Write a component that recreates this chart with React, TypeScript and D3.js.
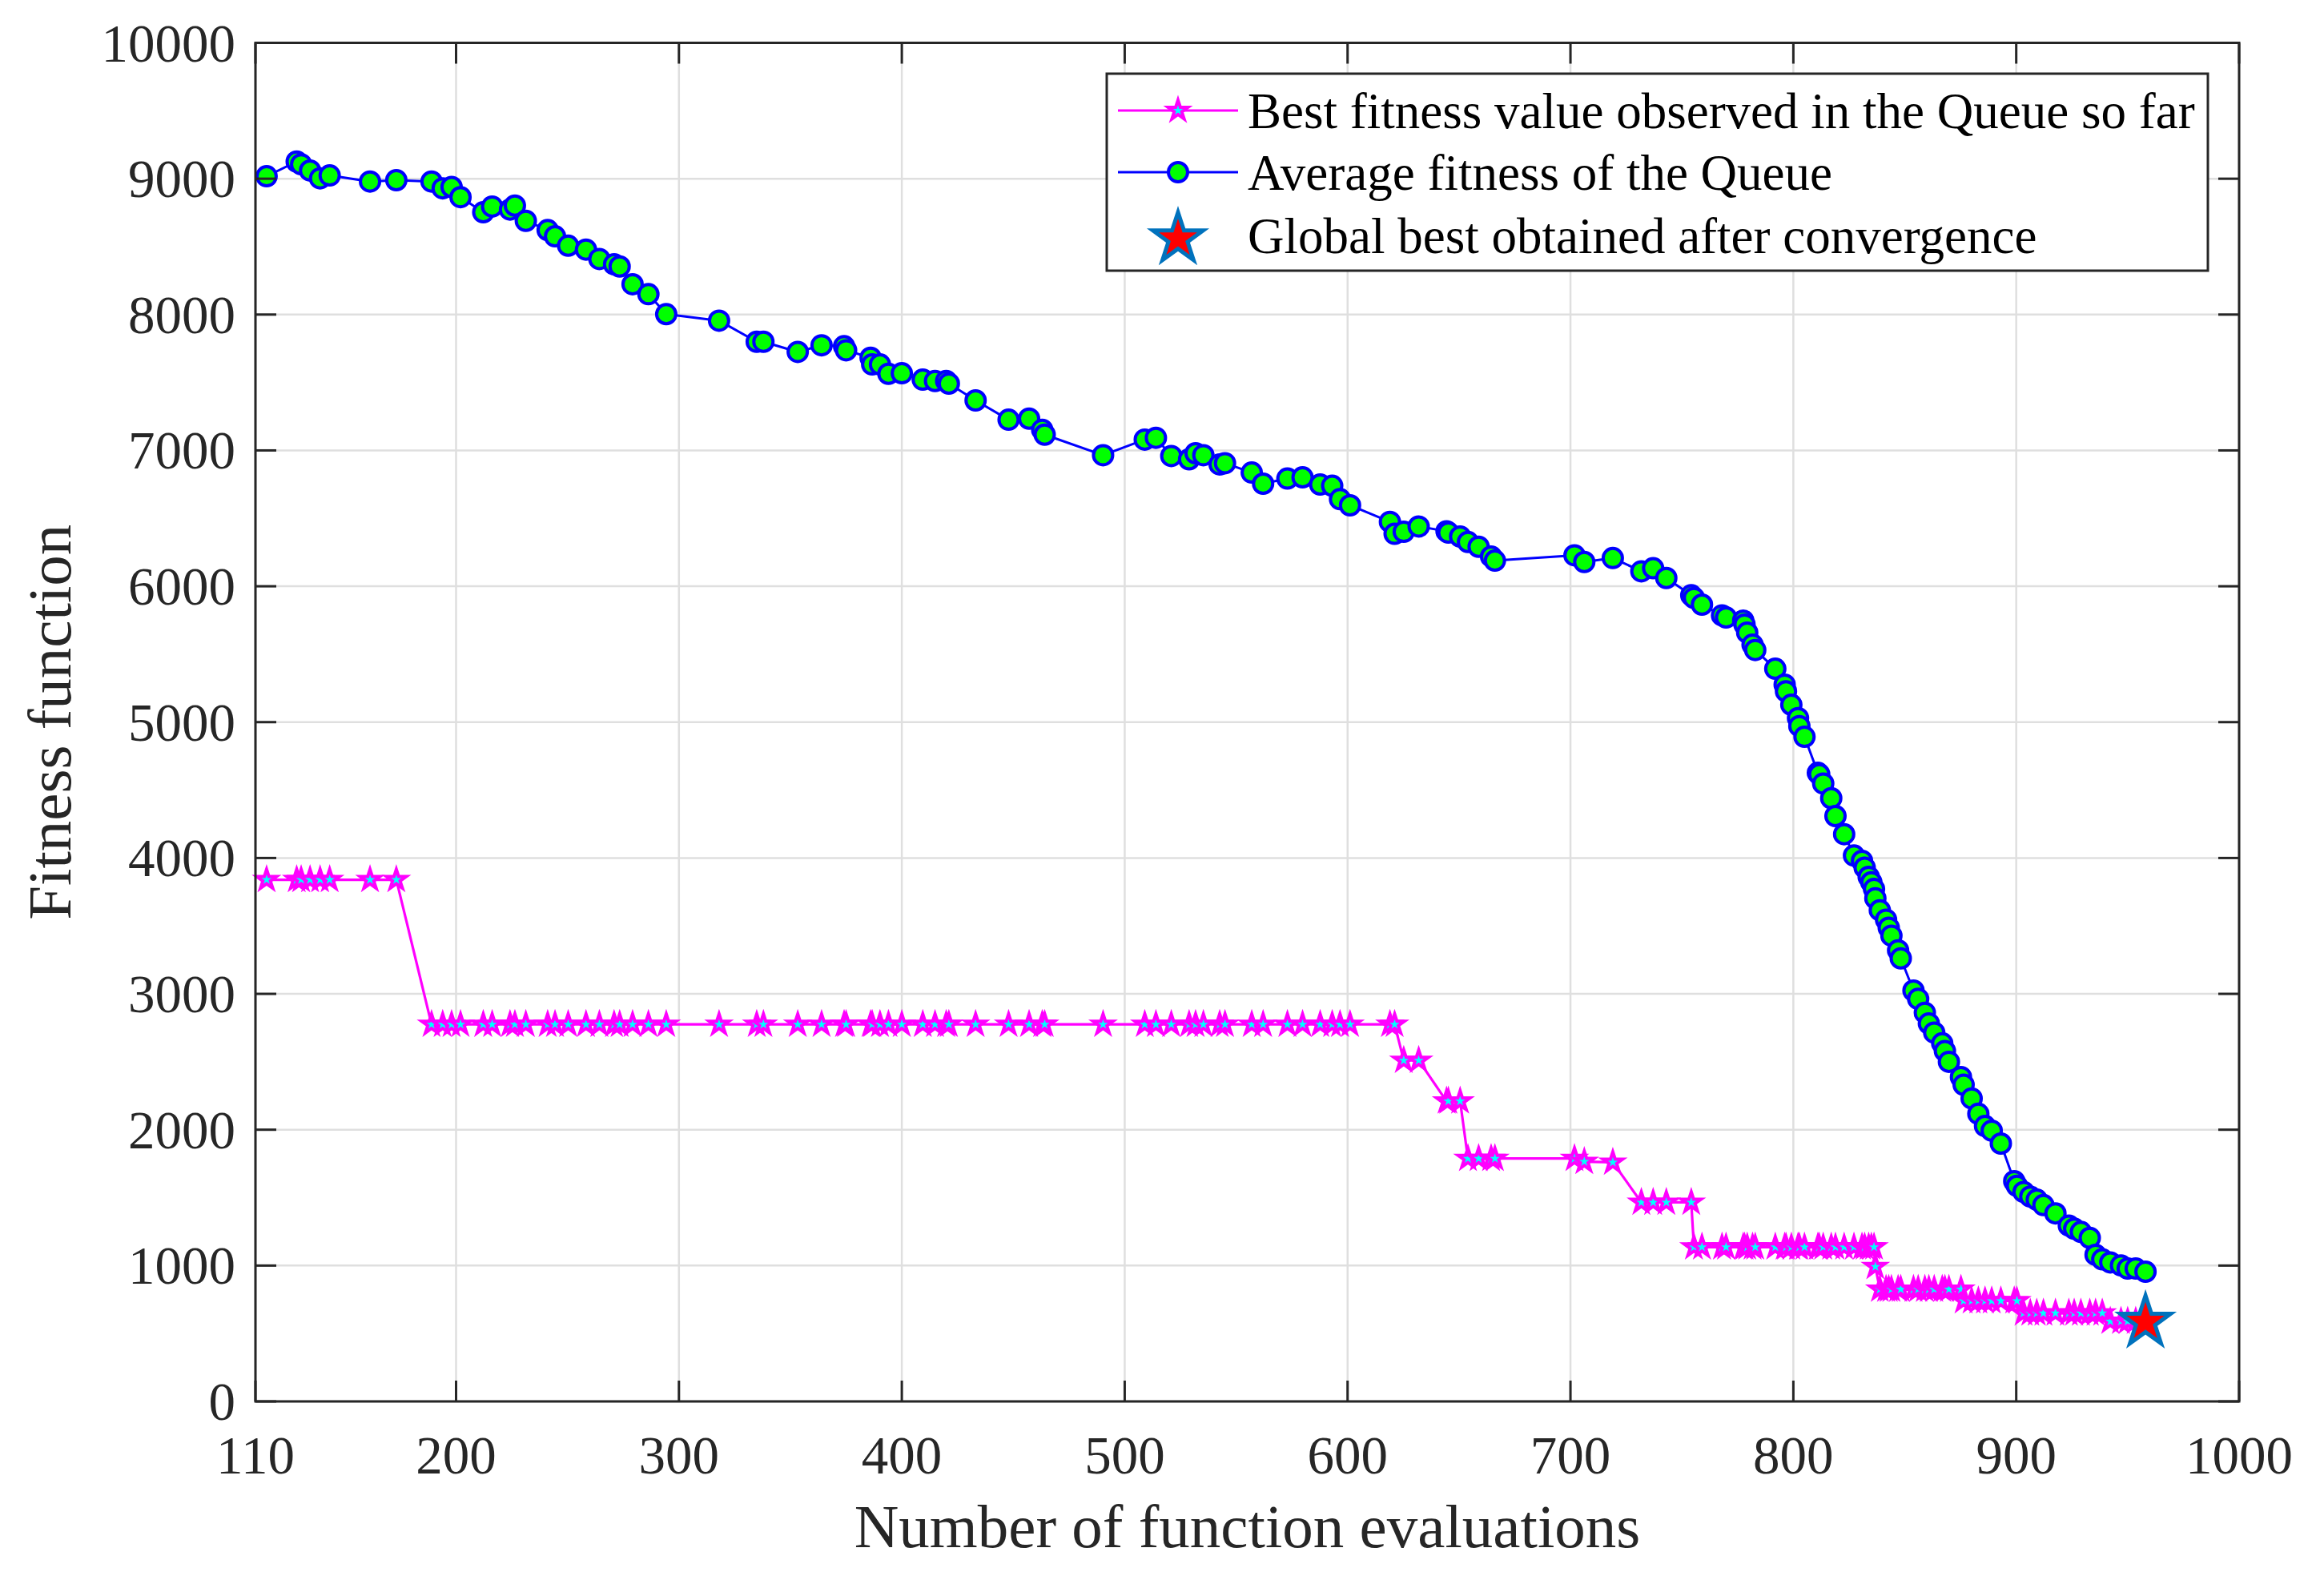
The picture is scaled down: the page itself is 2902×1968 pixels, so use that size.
import React from 'react';
import * as d3 from 'd3';

// ---- Data ----
const evals = [
  115, 128.5, 130.5, 134.5, 139, 143.3, 161.4, 173.2, 189, 194, 198, 202, 212.2, 216.2, 224.2, 226.4, 231.3, 241.1, 244.4, 250.3,
  258.3, 264.3, 270.9, 273.4, 279.2, 286.3, 294.3, 318, 334.9, 337.9, 353.3, 364, 374.1, 375, 386, 386.7, 390.2, 394, 400, 409.4,
  414.9, 419.9, 421.1, 433.1, 447.9, 457.1, 463, 464.1, 490.3, 509, 514, 520.9, 528.9, 531.8, 535.3, 542.6, 545, 557, 562.1, 573,
  579.8, 587.7, 593.1, 596.6, 601.1, 619, 621.1, 625.2, 631.9, 644.4, 645.2, 650.5, 654, 658.8, 664.4, 666.1, 701.8, 706.2, 719, 731.8,
  737.1, 743, 754.2, 755.4, 759, 768, 769.8, 777.5, 778.1, 779.3, 781.7, 782.9, 791.9, 796.1, 796.7, 799.1, 802.1, 802.7, 805, 811,
  811.6, 813.4, 817, 818.9, 822.8, 827.2, 830.8, 832, 833.8, 835, 836.2, 836.8, 838.8, 841.6, 842.8, 844, 847, 848.2, 853.9, 856,
  859, 860.8, 863.2, 866.8, 868, 869.8, 875.2, 876.4, 880, 883, 886, 889, 893.1, 899.1, 900.3, 903.3, 906.3, 909.2, 912.2, 917.6,
  923.6, 926, 929, 933, 935.6, 938.6, 942.2, 947, 950, 953.6, 958,
];

const avgFitness = [
  9018, 9126, 9106, 9060, 9003, 9024, 8979, 8989, 8979, 8929, 8939, 8864, 8753, 8795, 8773, 8802, 8690, 8622, 8576, 8507,
  8478, 8409, 8370, 8354, 8223, 8150, 8003, 7955, 7800, 7800, 7725, 7774, 7767, 7737, 7682, 7633, 7633, 7564, 7568, 7521,
  7511, 7511, 7492, 7368, 7226, 7234, 7152, 7116, 6965, 7080, 7093, 6959, 6935, 6979, 6965, 6897, 6906, 6837, 6755, 6793,
  6802, 6749, 6740, 6641, 6596, 6474, 6386, 6401, 6440, 6405, 6395, 6366, 6326, 6291, 6219, 6189, 6228, 6179, 6208, 6110,
  6133, 6061, 5934, 5914, 5865, 5786, 5770, 5747, 5718, 5659, 5570, 5531, 5393, 5276, 5227, 5128, 5030, 4971, 4892, 4627,
  4617, 4548, 4440, 4309, 4175, 4018, 3979, 3929, 3861, 3821, 3772, 3703, 3615, 3546, 3487, 3428, 3320, 3261, 3024, 2963,
  2861, 2782, 2715, 2636, 2579, 2500, 2388, 2331, 2230, 2117, 2027, 1993, 1898, 1621, 1587, 1542, 1508, 1485, 1445, 1384,
  1294, 1271, 1248, 1204, 1079, 1046, 1023, 1001, 978, 978, 955,
];

const bestFitness = [
  3840, 3840, 3840, 3840, 3840, 3840, 3840, 3840, 2775, 2775, 2775, 2775, 2775, 2775, 2775, 2775, 2775, 2775, 2775, 2775,
  2775, 2775, 2775, 2775, 2775, 2775, 2775, 2775, 2775, 2775, 2775, 2775, 2775, 2775, 2775, 2775, 2775, 2775, 2775, 2775,
  2775, 2775, 2775, 2775, 2775, 2775, 2775, 2775, 2775, 2775, 2775, 2775, 2775, 2775, 2775, 2775, 2775, 2775, 2775, 2775,
  2775, 2775, 2775, 2775, 2775, 2775, 2775, 2510, 2510, 2210, 2210, 2210, 1788, 1788, 1788, 1788, 1788, 1765, 1760, 1465,
  1465, 1465, 1465, 1136, 1136, 1136, 1136, 1136, 1136, 1136, 1136, 1136, 1136, 1136, 1136, 1136, 1136, 1136, 1136, 1136,
  1136, 1136, 1136, 1136, 1136, 1136, 1136, 1136, 1136, 1136, 1136, 992, 825, 825, 825, 825, 825, 825, 825, 825,
  825, 825, 825, 825, 825, 825, 825, 740, 740, 740, 740, 740, 740, 740, 740, 650, 650, 650, 650, 650,
  650, 650, 650, 650, 650, 650, 590, 590, 590, 590, 590,
];

const globalBestX = [958];
const globalBestY = [585];

const xTicks = [110, 200, 300, 400, 500, 600, 700, 800, 900, 1000];
const yTicks = [0, 1000, 2000, 3000, 4000, 5000, 6000, 7000, 8000, 9000, 10000];

const legendLabels = [
  'Best fitness value observed in the Queue so far',
  'Average fitness of the Queue',
  'Global best obtained after convergence',
];

const xLabel = 'Number of function evaluations';
const yLabel = 'Fitness function';

// ---- helpers ----
function starPath(R: number): string {
  const r = R * 0.382;
  let p = '';
  for (let i = 0; i < 10; i++) {
    const a = -Math.PI / 2 + (i * Math.PI) / 5;
    const rad = i % 2 === 0 ? R : r;
    p += (i === 0 ? 'M' : 'L') + (rad * Math.cos(a)).toFixed(2) + ',' + (rad * Math.sin(a)).toFixed(2);
  }
  return p + 'Z';
}

export default function App() {
  const W = 2902;
  const H = 1968;
  const left = 319;
  const right = 2796;
  const top = 53.5;
  const bottom = 1750;

  const x = d3.scaleLinear().domain([110, 1000]).range([left, right]);
  const y = d3.scaleLinear().domain([0, 10000]).range([bottom, top]);

  const axisColor = '#262626';
  const gridColor = '#dfdfdf';
  const font = '"Liberation Serif", "Times New Roman", serif';
  const tickFont = 67;
  const labelFont = 77;
  const legendFont = 63;
  const tickLen = 26;

  const bestPts = evals.map((e, i) => [x(e), y(bestFitness[i])] as [number, number]);
  const avgPts = evals.map((e, i) => [x(e), y(avgFitness[i])] as [number, number]);
  const line = d3.line<[number, number]>();

  const smallStar = starPath(13);
  const bigStar = starPath(33);

  // legend geometry
  const lgX = 1382, lgY = 92, lgW = 1375, lgH = 246;
  const rowY = [138, 215, 294];
  const lineX0 = 1396, lineX1 = 1546, markX = 1471, textX = 1558;

  return (
    <svg width={W} height={H} style={{ position: 'absolute', left: 0, top: 0, background: '#fff' }}>
      <rect x={0} y={0} width={W} height={H} fill="#fff" />
      {/* grid */}
      {xTicks.map((t) => (
        <line key={'gx' + t} x1={x(t)} x2={x(t)} y1={top} y2={bottom} stroke={gridColor} strokeWidth={2.5} />
      ))}
      {yTicks.map((t) => (
        <line key={'gy' + t} x1={left} x2={right} y1={y(t)} y2={y(t)} stroke={gridColor} strokeWidth={2.5} />
      ))}

      {/* best fitness series */}
      <path d={line(bestPts) || ''} fill="none" stroke="#ff00ff" strokeWidth={3.2} strokeLinejoin="round" />
      {bestPts.map((p, i) => (
        <path key={'bs' + i} d={smallStar} transform={`translate(${p[0]},${p[1]})`} fill="#00ffff" stroke="#ff00ff" strokeWidth={4} strokeMiterlimit={10} />
      ))}

      {/* average fitness series */}
      <path d={line(avgPts) || ''} fill="none" stroke="#0000ff" strokeWidth={3} strokeLinejoin="round" />
      {avgPts.map((p, i) => (
        <circle key={'ac' + i} cx={p[0]} cy={p[1]} r={12} fill="#00ff00" stroke="#0000ff" strokeWidth={4} />
      ))}

      {/* global best */}
      {globalBestX.map((gx, i) => (
        <path key={'gb' + i} d={bigStar} transform={`translate(${x(gx)},${y(globalBestY[i])})`} fill="#ff0000" stroke="#0072bd" strokeWidth={5} strokeMiterlimit={10} />
      ))}

      {/* axes box */}
      <rect x={left} y={top} width={right - left} height={bottom - top} fill="none" stroke={axisColor} strokeWidth={3} />
      {xTicks.map((t) => (
        <g key={'xt' + t}>
          <line x1={x(t)} x2={x(t)} y1={bottom} y2={bottom - tickLen} stroke={axisColor} strokeWidth={3} />
          <line x1={x(t)} x2={x(t)} y1={top} y2={top + tickLen} stroke={axisColor} strokeWidth={3} />
          <text x={x(t)} y={1840} textAnchor="middle" fontFamily={font} fontSize={tickFont} fill={axisColor}>{t}</text>
        </g>
      ))}
      {yTicks.map((t) => (
        <g key={'yt' + t}>
          <line x1={left} x2={left + tickLen} y1={y(t)} y2={y(t)} stroke={axisColor} strokeWidth={3} />
          <line x1={right} x2={right - tickLen} y1={y(t)} y2={y(t)} stroke={axisColor} strokeWidth={3} />
          <text x={294} y={y(t) + 23} textAnchor="end" fontFamily={font} fontSize={tickFont} fill={axisColor}>{t}</text>
        </g>
      ))}

      {/* axis labels */}
      <text x={(left + right) / 2} y={1932} textAnchor="middle" fontFamily={font} fontSize={labelFont} fill={axisColor}>{xLabel}</text>
      <text transform={`translate(88,${(top + bottom) / 2}) rotate(-90)`} textAnchor="middle" fontFamily={font} fontSize={labelFont} fill={axisColor}>{yLabel}</text>

      {/* legend */}
      <rect x={lgX} y={lgY} width={lgW} height={lgH} fill="#fff" stroke={axisColor} strokeWidth={3} />
      <line x1={lineX0} x2={lineX1} y1={rowY[0]} y2={rowY[0]} stroke="#ff00ff" strokeWidth={3.2} />
      <path d={smallStar} transform={`translate(${markX},${rowY[0]})`} fill="#00ffff" stroke="#ff00ff" strokeWidth={4} strokeMiterlimit={10} />
      <line x1={lineX0} x2={lineX1} y1={rowY[1]} y2={rowY[1]} stroke="#0000ff" strokeWidth={3} />
      <circle cx={markX} cy={rowY[1]} r={12} fill="#00ff00" stroke="#0000ff" strokeWidth={4} />
      <path d={bigStar} transform={`translate(${markX},${rowY[2] + 4})`} fill="#ff0000" stroke="#0072bd" strokeWidth={5} strokeMiterlimit={10} />
      {legendLabels.map((l, i) => (
        <text key={'lg' + i} x={textX} y={rowY[i] + 22} fontFamily={font} fontSize={legendFont} fill="#000">{l}</text>
      ))}
    </svg>
  );
}
